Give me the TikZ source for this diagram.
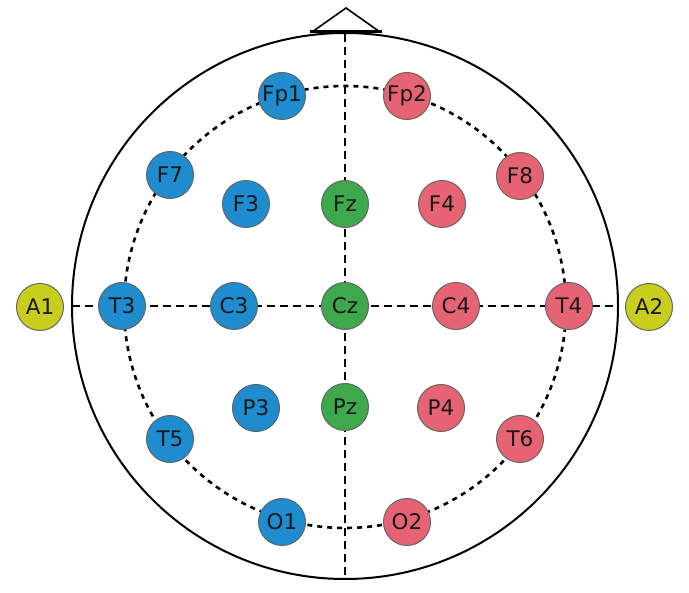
\documentclass[tikz,border=0pt]{standalone}
\usepackage{fontspec}
\setmainfont{DejaVu Sans}
\definecolor{eblue}{RGB}{30,140,206}
\definecolor{ered}{RGB}{229,99,114}
\definecolor{egreen}{RGB}{62,168,76}
\definecolor{eyellow}{RGB}{200,206,30}
\begin{document}
\begin{tikzpicture}[x=1pt,y=-1pt,
  elec/.style={circle,draw=black!60,line width=1pt,minimum size=47pt,inner sep=0pt,
    font=\fontsize{21.5}{21.5}\selectfont,text=black!90},
  lft/.style={elec,fill=eblue},
  rgt/.style={elec,fill=ered},
  mid/.style={elec,fill=egreen},
  ear/.style={elec,fill=eyellow},
  head/.style={line width=2pt,draw=black},
  ring/.style={line width=2.6pt,dash pattern=on 5pt off 5pt},
  axis/.style={line width=2.4pt,dash pattern=on 8pt off 5pt}]
\useasboundingbox (0,0) rectangle (689,593);
% head
\draw[head] (345,306) circle[radius=273];
% nose
\draw[line width=1.6pt,line join=miter] (312,32) -- (346,8) -- (380,32);
\draw[line width=3pt] (310,32) -- (382,32);
% axes
\coordinate (vt) at (345,34);
\coordinate (vb) at (345,579);
\coordinate (hl) at (72,306);
\coordinate (hr) at (618,306);
\draw[axis] (vt) -- (vb);
\draw[axis] (hl) -- (hr);
% ring
\draw[ring] (345,307) circle[radius=221];
% electrodes
\node[ear] (A1) at (40,307) {A1};
\node[ear] (A2) at (649,307) {A2};
\node[lft] (Fp1) at (282,96) {Fp1};
\node[lft] (F7) at (170,175) {F7};
\node[lft] (T3) at (122,306) {T3};
\node[lft] (T5) at (170,439) {T5};
\node[lft] (O1) at (282,522) {O1};
\node[lft] (F3) at (246,204) {F3};
\node[lft] (C3) at (234,306) {C3};
\node[lft] (P3) at (256,408) {P3};
\node[mid] (Fz) at (345,204) {Fz};
\node[mid] (Cz) at (345,306) {Cz};
\node[mid] (Pz) at (345,407) {Pz};
\node[rgt] (Fp2) at (407,96) {Fp2};
\node[rgt] (F8) at (520,176) {F8};
\node[rgt] (T4) at (569,306) {T4};
\node[rgt] (T6) at (520,439) {T6};
\node[rgt] (O2) at (407,522) {O2};
\node[rgt] (F4) at (442,204) {F4};
\node[rgt] (C4) at (456,306) {C4};
\node[rgt] (P4) at (441,408) {P4};
\end{tikzpicture}
\end{document}
